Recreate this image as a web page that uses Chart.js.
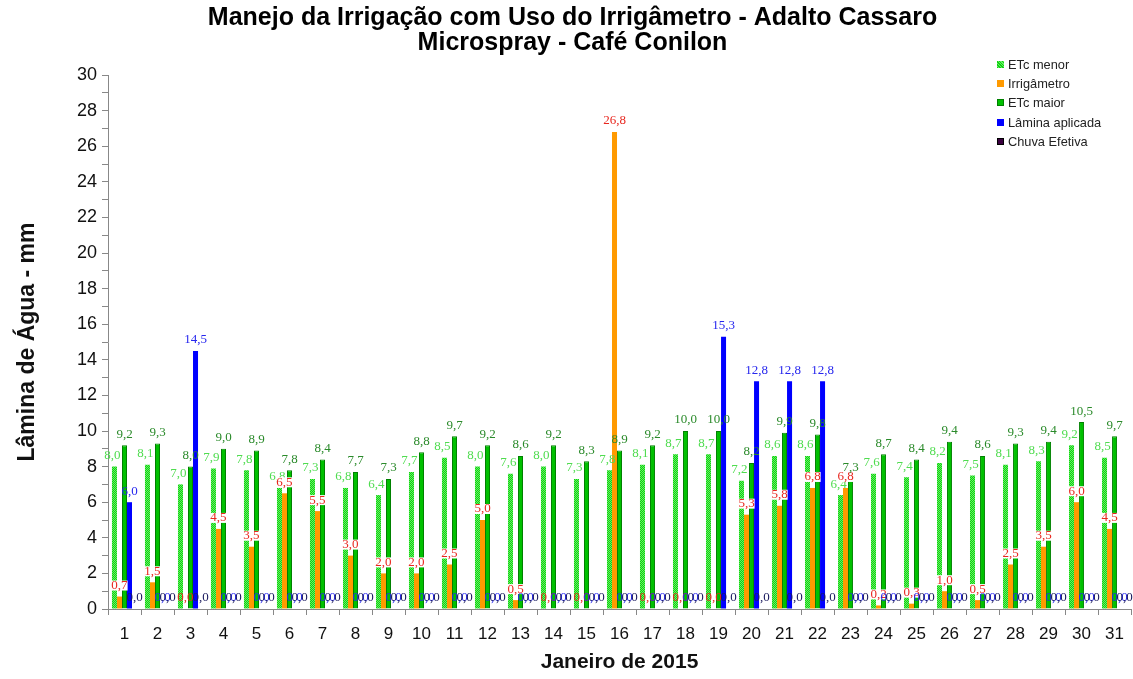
<!DOCTYPE html>
<html lang="pt-BR">
<head>
    <meta charset="UTF-8">
    <title>Manejo da Irrigação - Adalto Cassaro</title>
    <script src="https://cdn.jsdelivr.net/npm/chart.js"></script>
    <style>
        body { margin: 0; background: #fff; font-family: 'Liberation Sans', Arial, sans-serif; }
        .chart-container { position: relative; width: 1133px; height: 679px; }
        #legenda { position: absolute; left: 997px; top: 55px; font-size: 12.8px; color: #222; }
        #legenda div { height: 19.2px; display: flex; align-items: center; }
        #legenda span.m { display: inline-block; width: 7px; height: 7px; margin-right: 4px; box-sizing: border-box; }
    </style>
</head>
<body>
    <div class="chart-container">
        <canvas id="graficoIrrigacao"></canvas>
        <div id="legenda"></div>
    </div>

    <script>
        // dados (mm)
        const dias = ['1','2','3','4','5','6','7','8','9','10','11','12','13','14','15','16',
                      '17','18','19','20','21','22','23','24','25','26','27','28','29','30','31'];
        const etcMenor = [8.0, 8.1, 7.0, 7.9, 7.8, 6.8, 7.3, 6.8, 6.4, 7.7, 8.5, 8.0, 7.6, 8.0, 7.3, 7.8,
                          8.1, 8.7, 8.7, 7.2, 8.6, 8.6, 6.4, 7.6, 7.4, 8.2, 7.5, 8.1, 8.3, 9.2, 8.5];
        const irrigametro = [0.7, 1.5, 0.0, 4.5, 3.5, 6.5, 5.5, 3.0, 2.0, 2.0, 2.5, 5.0, 0.5, 0.0, 0.0, 26.8,
                             0.0, 0.0, 0.0, 5.3, 5.8, 6.8, 6.8, 0.2, 0.3, 1.0, 0.5, 2.5, 3.5, 6.0, 4.5];
        const etcMaior = [9.2, 9.3, 8.0, 9.0, 8.9, 7.8, 8.4, 7.7, 7.3, 8.8, 9.7, 9.2, 8.6, 9.2, 8.3, 8.9,
                          9.2, 10.0, 10.0, 8.2, 9.9, 9.8, 7.3, 8.7, 8.4, 9.4, 8.6, 9.3, 9.4, 10.5, 9.7];
        const laminaAplicada = [6.0, 0, 14.5, 0, 0, 0, 0, 0, 0, 0, 0, 0, 0, 0, 0, 0,
                                0, 0, 15.3, 12.8, 12.8, 12.8, 0, 0, 0, 0, 0, 0, 0, 0, 0];
        const chuvaEfetiva = [0, 0, 0, 0, 0, 0, 0, 0, 0, 0, 0, 0, 0, 0, 0, 0,
                              0, 0, 0, 0, 0, 0, 0, 0, 0, 0, 0, 0, 0, 0, 0];

        const ctx = document.getElementById('graficoIrrigacao').getContext('2d');

        // padrão quadriculado da série ETc menor
        function padraoVerdeClaro() {
            const c = document.createElement('canvas');
            c.width = 2; c.height = 2;
            const p = c.getContext('2d');
            p.fillStyle = '#12d012'; p.fillRect(0, 0, 2, 2);
            p.fillStyle = '#66f066'; p.fillRect(0, 0, 1, 1); p.fillRect(1, 1, 1, 1);
            return ctx.createPattern(c, 'repeat');
        }

        const corRotulo = ['#4fdc4f', '#e8261e', '#2a8a2a', '#2626ee', '#1a1a5e'];
        const fundoBranco = [false, true, false, false, false];

        function formatar(v) {
            return v.toFixed(1).replace('.', ',');
        }

        // rótulos de dados (o plugin datalabels não está disponível)
        const rotulos = {
            id: 'rotulos',
            afterDatasetsDraw(chart) {
                const c = chart.ctx;
                c.save();
                c.font = '13px "Liberation Serif", "Times New Roman", serif';
                c.textAlign = 'center';
                c.textBaseline = 'middle';
                chart.data.datasets.forEach((ds, i) => {
                    const meta = chart.getDatasetMeta(i);
                    meta.data.forEach((bar, j) => {
                        const txt = formatar(ds.data[j]);
                        const x = bar.x + (i === 0 ? -2 : 0);
                        const y = bar.y - 11;
                        if (fundoBranco[i] && ds.data[j] > 0) {
                            const w = c.measureText(txt).width;
                            c.fillStyle = '#fff';
                            c.fillRect(x - w / 2, y - 5, w, 10);
                        }
                        c.fillStyle = corRotulo[i];
                        c.fillText(txt, x, y);
                    });
                });
                c.restore();
            }
        };

        const series = [
            { label: 'ETc menor', data: etcMenor, backgroundColor: padraoVerdeClaro() },
            { label: 'Irrigâmetro', data: irrigametro, backgroundColor: '#ff9a00' },
            { label: 'ETc maior', data: etcMaior, backgroundColor: '#00c000', borderColor: '#008000', borderWidth: 1 },
            { label: 'Lâmina aplicada', data: laminaAplicada, backgroundColor: '#0000ff' },
            { label: 'Chuva Efetiva', data: chuvaEfetiva, backgroundColor: '#3a0040' }
        ];

        new Chart(ctx, {
            type: 'bar',
            data: {
                labels: dias,
                datasets: series.map(s => Object.assign({ categoryPercentage: 0.76, barPercentage: 1.0, borderSkipped: 'bottom' }, s))
            },
            options: {
                responsive: true,
                maintainAspectRatio: false,
                animation: false,
                layout: { padding: { left: 12, right: 0, top: 0, bottom: 2 } },
                plugins: {
                    legend: { display: false },
                    tooltip: { enabled: false },
                    title: {
                        display: true,
                        text: ['Manejo da Irrigação com Uso do Irrigâmetro - Adalto Cassaro', 'Microspray - Café Conilon'],
                        color: '#000',
                        font: { family: "'Liberation Sans Narrow', 'Liberation Sans', Arial", size: 25, weight: 'bold', lineHeight: 1.0 },
                        padding: { top: 6, bottom: 19 }
                    }
                },
                scales: {
                    x: {
                        grid: { drawOnChartArea: false, tickLength: 6, color: '#888', offset: true },
                        border: { color: '#888' },
                        ticks: { color: '#111', font: { family: 'Liberation Sans', size: 17 }, padding: 9, autoSkip: false, maxRotation: 0 },
                        title: { display: true, text: 'Janeiro de 2015', color: '#111', font: { family: 'Liberation Sans', size: 21, weight: 'bold' }, padding: { top: 4, bottom: 2 } },
                        afterFit(scale) { scale.height = 68; }
                    },
                    y: {
                        min: 0,
                        max: 30,
                        grid: { drawOnChartArea: false, tickLength: 6, color: '#888' },
                        border: { color: '#888' },
                        ticks: {
                            stepSize: 1,
                            autoSkip: false,
                            color: '#111',
                            padding: 5,
                            font: { family: 'Liberation Sans', size: 18 },
                            callback: v => (v % 2 === 0 ? v : '')
                        },
                        title: { display: true, text: 'Lâmina de Água - mm', color: '#111', font: { family: 'Liberation Sans', size: 23, weight: 'bold' }, padding: { top: 2, bottom: 4 } },
                        afterFit(scale) { scale.width = 96; }
                    }
                }
            },
            plugins: [rotulos]
        });

        // legenda no canto superior direito
        const legenda = document.getElementById('legenda');
        const marcadores = ['background: repeating-linear-gradient(45deg,#12d012 0 1px,#66f066 1px 2px)', 'background:#ff9a00',
                            'background:#00c000;border:1px solid #008000', 'background:#0000ff', 'background:#3a0040;border:1px solid #000'];
        series.forEach((s, i) => {
            const d = document.createElement('div');
            d.innerHTML = '<span class="m" style="' + marcadores[i] + '"></span>' + s.label;
            legenda.appendChild(d);
        });
    </script>
</body>
</html>
